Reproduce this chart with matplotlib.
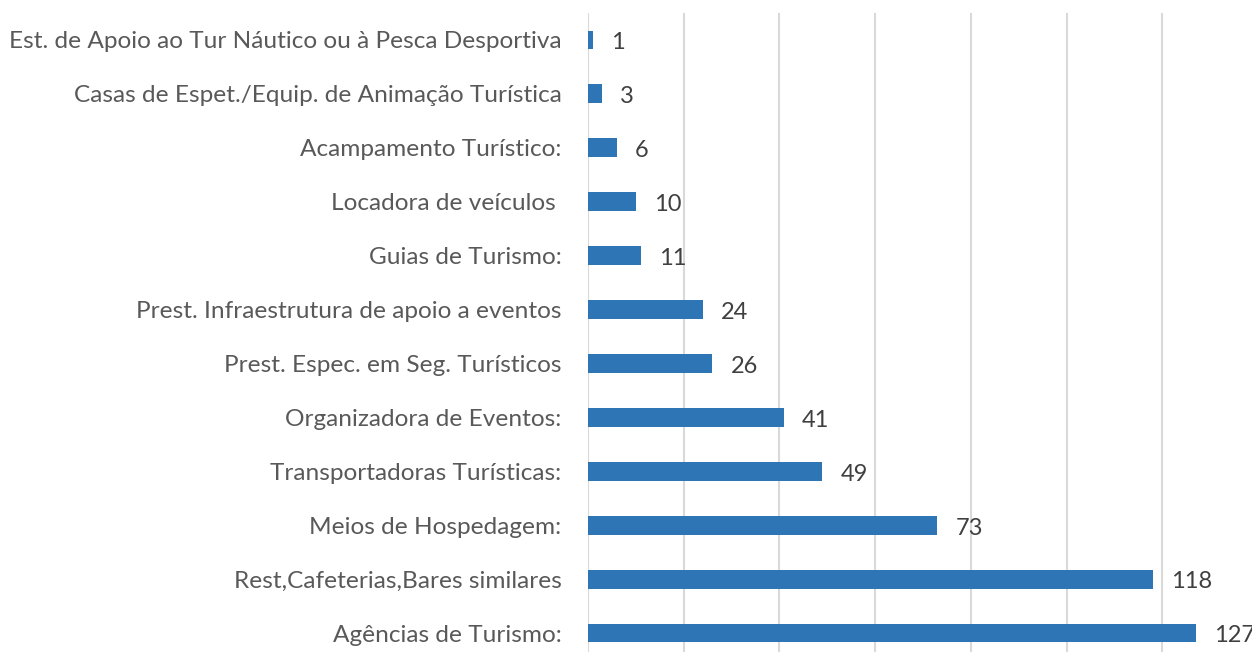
import matplotlib.pyplot as plt

categories = [
    "Agências de Turismo:",
    "Rest,Cafeterias,Bares similares",
    "Meios de Hospedagem:",
    "Transportadoras Turísticas:",
    "Organizadora de Eventos:",
    "Prest. Espec. em Seg. Turísticos",
    "Prest. Infraestrutura de apoio a eventos",
    "Guias de Turismo:",
    "Locadora de veículos ",
    "Acampamento Turístico:",
    "Casas de Espet./Equip. de Animação Turística",
    "Est. de Apoio ao Tur Náutico ou à Pesca Desportiva",
]
values = [127, 118, 73, 49, 41, 26, 24, 11, 10, 6, 3, 1]

plt.rcParams['font.family'] = ['Lato', 'DejaVu Sans']

fig = plt.figure(figsize=(12.52, 6.52), dpi=100)
ax = fig.add_axes([0.4696, -0.0123, 0.5352, 0.9923])

pos = range(len(categories))
ax.barh(pos, values, height=0.35, color='#2E75B6', zorder=3)

for p, v in zip(pos, values):
    ax.annotate(str(v), (v, p), xytext=(13, -2), textcoords='offset points',
                va='center', ha='left', fontsize=17, color='#404040')

ax.set_yticks(list(pos))
ax.set_yticklabels(categories, fontsize=17.6, color='#595959')
ax.set_ylim(-0.5, len(categories) - 0.5)
ax.set_xlim(0, 140)
ax.set_xticks(range(0, 141, 20))
ax.set_xticklabels([])
ax.grid(axis='x', color='#D9D9D9', linewidth=1.5, zorder=0)
ax.tick_params(axis='both', length=0)
ax.tick_params(axis='y', pad=19)
for s in ax.spines.values():
    s.set_visible(False)

fig.savefig('out.png', dpi=100)
